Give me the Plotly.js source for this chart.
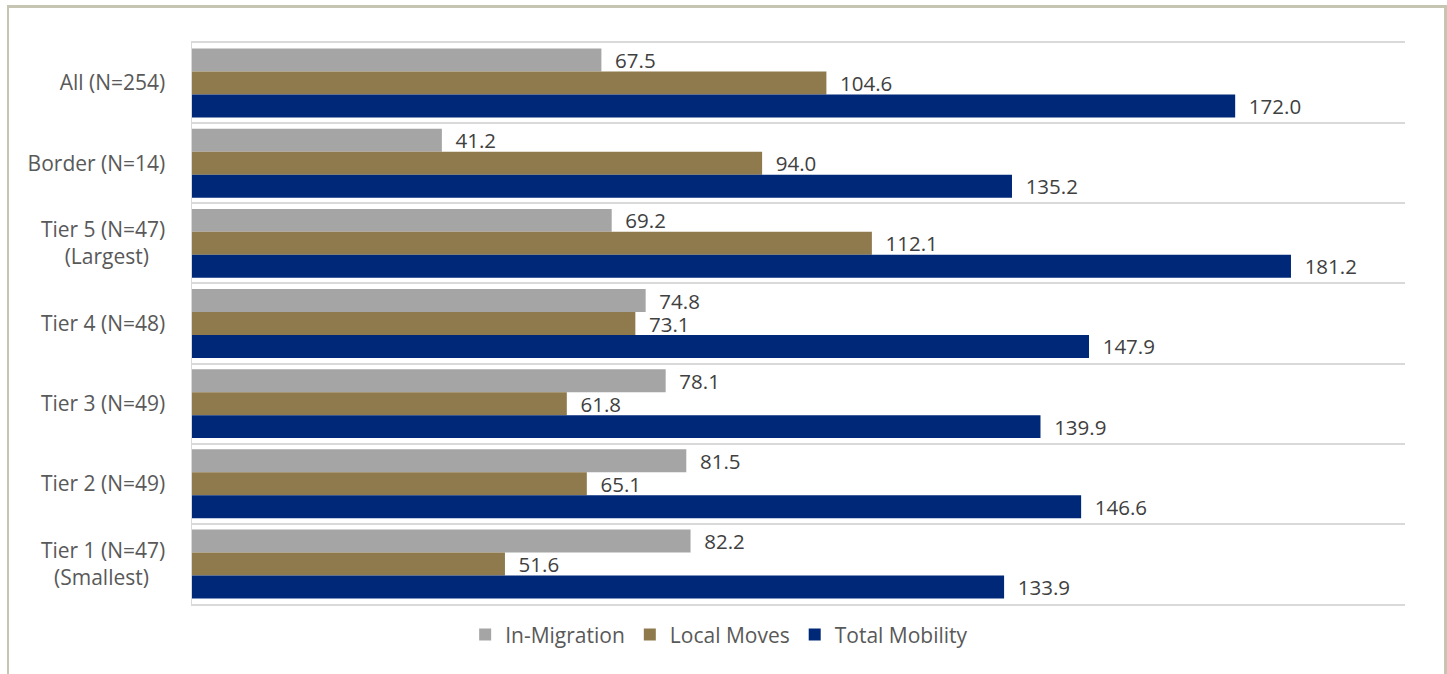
<!DOCTYPE html>
<html>
<head>
<meta charset="utf-8">
<script src="https://cdn.plot.ly/plotly-3.0.1.min.js"></script>
<style>
  html, body { margin: 0; padding: 0; background: #ffffff; }
  #chart { width: 1447px; height: 674px; }
  #frame {
    position: absolute; left: 7px; top: 5px; width: 1435px; height: 700px;
    border-top: 3px solid #c6c5b1; border-left: 2px solid #c6c5b1; border-right: 3px solid #c6c5b1;
    pointer-events: none;
  }
</style>
</head>
<body>
<div id="chart"></div>
<div id="frame"></div>
<script>
const categories = [
  "All (N=254)",
  "Border (N=14)",
  "Tier 5 (N=47)<br>(Largest)\u00A0\u00A0\u00A0",
  "Tier 4 (N=48)",
  "Tier 3 (N=49)",
  "Tier 2 (N=49)",
  "Tier 1 (N=47)<br>(Smallest)\u00A0\u00A0\u00A0"
];
const seriesNames = ["In-Migration", "Local Moves", "Total Mobility"];
const inMigration = [67.5, 41.2, 69.2, 74.8, 78.1, 81.5, 82.2];
const localMoves = [104.6, 94.0, 112.1, 73.1, 61.8, 65.1, 51.6];
const totalMobility = [172.0, 135.2, 181.2, 147.9, 139.9, 146.6, 133.9];
const colors = ["#a5a5a5", "#8f7a4d", "#002878"];

const FONT = "Open Sans, Noto Sans, sans-serif";
const seriesValues = [inMigration, localMoves, totalMobility];

const traces = seriesValues.map((vals, i) => ({
  type: "bar",
  orientation: "h",
  name: seriesNames[i],
  y: categories,
  x: vals,
  marker: { color: colors[i] },
  text: vals.map(v => v.toFixed(1)),
  texttemplate: "\u00A0\u00A0%{text}",
  textposition: "outside",
  constraintext: "none",
  cliponaxis: false,
  textfont: { family: FONT, size: 20.5, color: "#404040" },
  hoverinfo: "skip"
}));

const layout = {
  width: 1447,
  height: 674,
  margin: { l: 192, r: 42, t: 43, b: 70 },
  paper_bgcolor: "#ffffff",
  plot_bgcolor: "#ffffff",
  barmode: "group",
  bargap: 0.14,
  bargroupgap: 0,
  showlegend: true,
  legend: {
    orientation: "h",
    xref: "container", yref: "container",
    x: 0.497, xanchor: "center",
    y: 0.058, yanchor: "middle",
    font: { family: FONT, size: 21, color: "#595959" },
    traceorder: "normal"
  },
  xaxis: {
    range: [0, 200],
    showgrid: false,
    zeroline: false,
    showticklabels: false,
    showline: true,
    mirror: true,
    linecolor: "#d9d9d9",
    linewidth: 2,
    ticks: "",
    fixedrange: true
  },
  yaxis: {
    type: "category",
    autorange: "reversed",
    tickson: "boundaries",
    showgrid: true,
    gridcolor: "#d9d9d9",
    gridwidth: 2,
    showline: true,
    linecolor: "#d9d9d9",
    linewidth: 1.5,
    ticks: "",
    ticklabelstandoff: 21,
    tickfont: { family: FONT, size: 21, color: "#595959" },
    zeroline: false,
    fixedrange: true
  },
  font: { family: FONT }
};

Plotly.newPlot("chart", traces, layout, { displayModeBar: false, staticPlot: true });
</script>
</body>
</html>
